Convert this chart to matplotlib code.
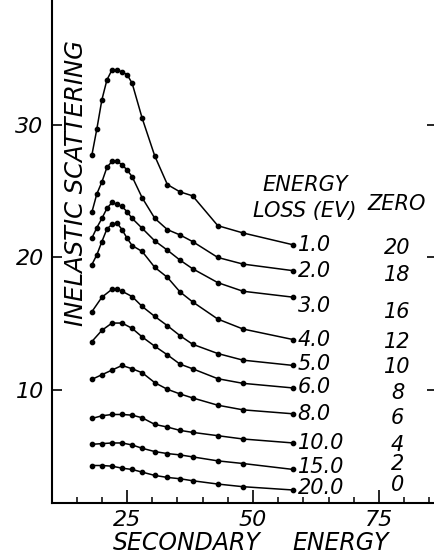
"""Inelastic scattering curves vs secondary energy, redrawn from a scanned plot.
"""
import matplotlib
matplotlib.use('Agg')
import matplotlib.pyplot as plt
from matplotlib.ticker import MultipleLocator, FixedLocator

# x positions of the measured points (secondary energy)
x_fine = [18, 19, 20, 21, 22, 23, 24, 25, 26, 28, 30.5, 33, 35.5, 38, 43, 48, 58]
x_mid = [18, 20, 22, 23, 24, 26, 28, 30.5, 33, 35.5, 38, 43, 48, 58]
x_coarse = [18, 20, 22, 24, 26, 28, 30.5, 33, 35.5, 38, 43, 48, 58]

# one curve per energy loss, each already shifted by its zero offset
y_1 = [27.7, 29.7, 31.9, 33.4, 34.15, 34.15, 34.0, 33.8, 33.15, 30.5,
       27.65, 25.5, 24.95, 24.65, 22.4, 21.85, 20.95]
y_2 = [23.4, 24.8, 25.7, 26.8, 27.25, 27.25, 27.0, 26.6, 26.1, 24.5,
       22.95, 22.1, 21.7, 21.2, 20.0, 19.5, 19.0]
y_3 = [21.45, 22.25, 22.95, 23.7, 24.15, 24.0, 23.85, 23.45, 22.95, 22.2,
       21.25, 20.55, 19.8, 19.15, 18.1, 17.45, 17.0]
y_4 = [19.45, 20.2, 21.2, 22.15, 22.5, 22.6, 22.1, 21.45, 20.9, 20.45,
       19.25, 18.5, 17.4, 16.65, 15.35, 14.6, 13.8]
y_5 = [15.9, 17.0, 17.6, 17.6, 17.45, 17.05, 16.3, 15.55, 14.85, 14.1,
       13.45, 12.75, 12.25, 11.85]
y_6 = [13.65, 14.5, 15.05, 15.05, 14.65, 14.0, 13.3, 12.65, 11.95, 11.6,
       10.85, 10.5, 10.15]
y_8 = [10.8, 11.15, 11.5, 11.85, 11.6, 11.3, 10.55, 10.05, 9.7, 9.4,
       8.85, 8.5, 8.2]
y_10 = [7.85, 8.05, 8.15, 8.15, 8.1, 7.9, 7.4, 7.2, 6.95, 6.8, 6.55, 6.3, 6.0]
y_15 = [5.9, 5.95, 6.0, 6.0, 5.85, 5.6, 5.35, 5.2, 5.1, 4.95, 4.65, 4.45, 4.0]
y_20 = [4.3, 4.3, 4.25, 4.1, 4.0, 3.8, 3.55, 3.4, 3.3, 3.15, 2.9, 2.7, 2.45]

loss_labels = ["1.0", "2.0", "3.0", "4.0", "5.0", "6.0", "8.0", "10.0", "15.0", "20.0"]
zero_labels = ["20", "18", "16", "12", "10", "8", "6", "4", "2", "0"]

x_ticks = [25, 50, 75]
y_ticks = [10, 20, 30]

curves = [(x_fine, y_1), (x_fine, y_2), (x_fine, y_3), (x_fine, y_4),
          (x_mid, y_5), (x_coarse, y_6), (x_coarse, y_8),
          (x_coarse, y_10), (x_coarse, y_15), (x_coarse, y_20)]

# small nudges (points) of the hand written labels against the curve ends
label_dy = [0, 0, -6.5, 0, 0.7, 0.7, 0, 0, 2, 1.5]
zero_dy = [-2.2, -2.9, -10.4, -1.6, -0.9, -3.8, -3.1, -1.2, 4.3, 3.6]

W, H = 434, 555
fig = plt.figure(figsize=(W / 100, H / 100), dpi=100)
ax = fig.add_axes([52 / W, (H - 503) / H, (437 - 52) / W, 503 / H])

hand = dict(family='DejaVu Sans', style='italic', color='black')

for (xs, ys), lab, zlab, dy, zdy in zip(curves, loss_labels, zero_labels,
                                         label_dy, zero_dy):
    ax.plot(xs, ys, color='black', lw=1.1, marker='o', ms=3.1,
            mfc='black', mec='black')
    ax.annotate(lab, (xs[-1], ys[-1]), xytext=(3, dy),
                textcoords='offset points', ha='left', va='center',
                fontsize=15, **hand)
    ax.annotate(zlab, (xs[-1], ys[-1]), xytext=(75, zdy),
                textcoords='offset points', ha='center', va='center',
                fontsize=15, **hand)

ax.set_xlim(10.1, 86.5)
ax.set_ylim(1.47, 39.43)

ax.spines['top'].set_visible(False)
ax.spines['right'].set_visible(False)
ax.spines['left'].set_linewidth(1.5)
ax.spines['bottom'].set_linewidth(1.5)

ax.xaxis.set_major_locator(FixedLocator(x_ticks))
ax.xaxis.set_minor_locator(MultipleLocator(5))
ax.yaxis.set_major_locator(FixedLocator(y_ticks))
ax.tick_params(axis='x', which='major', direction='in', length=9.5,
               width=1.2, pad=5, labelsize=16)
ax.tick_params(axis='x', which='minor', direction='in', length=4, width=1.1)
ax.tick_params(axis='y', which='major', direction='in', length=7,
               width=1.2, pad=6, labelsize=16, right=True)
for lbl in ax.get_xticklabels() + ax.get_yticklabels():
    lbl.set_fontstyle('italic')

# hand lettered titles
fig.text(76 / W, 1 - 183 / H, "INELASTIC SCATTERING", rotation=90,
         ha='center', va='center', fontsize=17.5, **hand)
fig.text(305 / W, 1 - 185 / H, "ENERGY", ha='center', va='center',
         fontsize=15, **hand)
fig.text(305 / W, 1 - 211 / H, "LOSS (EV)", ha='center', va='center',
         fontsize=15, **hand)
fig.text(397 / W, 1 - 204 / H, "ZERO", ha='center', va='center',
         fontsize=15, **hand)
fig.text(187 / W, 1 - 543 / H, "SECONDARY", ha='center', va='center',
         fontsize=17, **hand)
fig.text(292 / W, 1 - 543 / H, "ENERGY", ha='left', va='center',
         fontsize=17, **hand)

fig.savefig('out.png', dpi=100)
